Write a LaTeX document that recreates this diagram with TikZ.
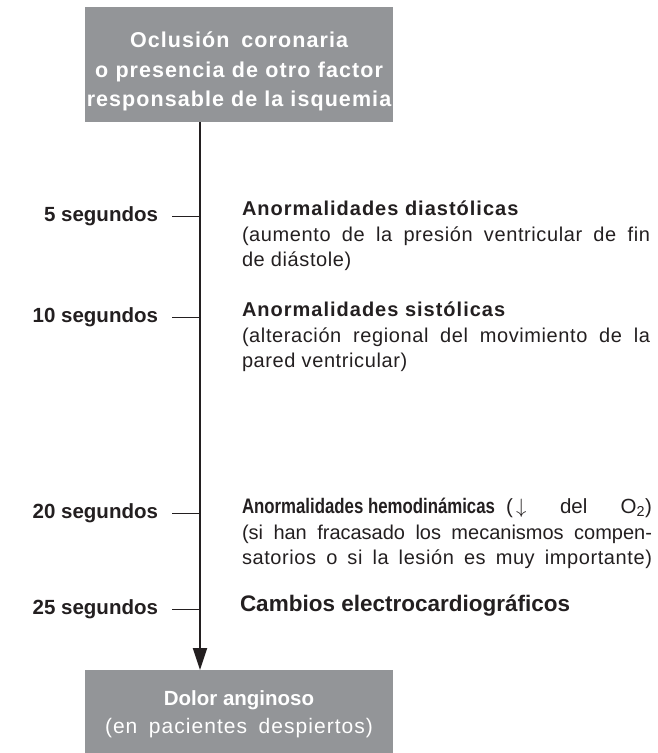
\documentclass[tikz,border=0pt]{standalone}
\usepackage{fontspec}
\setmainfont{Liberation Sans}
\newfontfamily\spacedfont[LetterSpace=5]{Liberation Sans}
\newfontfamily\lightspaced[LetterSpace=3]{Liberation Sans}
\usetikzlibrary{arrows.meta}
\definecolor{boxgray}{RGB}{147,149,152}
\definecolor{ink}{RGB}{35,31,32}
\tikzset{
  every node/.style={inner sep=0pt, outer sep=0pt, text=ink},
  graybox/.style={fill=boxgray, draw=none, anchor=north west},
  boxhead/.style={anchor=base, text=white, font=\spacedfont\bfseries\fontsize{21.5}{25}\selectfont},
  boxsub/.style={anchor=base, text=white, font=\spacedfont\fontsize{21}{25}\selectfont},
  timelabel/.style={anchor=base east, font=\bfseries\fontsize{20.5}{25}\selectfont},
  headline/.style={anchor=base west, font=\spacedfont\bfseries\fontsize{20}{25}\selectfont},
  subline/.style={anchor=base west, font=\lightspaced\fontsize{20}{25}\selectfont},
  plainline/.style={anchor=base west, font=\fontsize{20}{25}\selectfont},
  tickline/.style={draw=ink, line width=0.9pt},
  mainline/.style={draw=ink, line width=2pt, -{Triangle[length=22pt,width=14pt]}}
}
\begin{document}
\begin{tikzpicture}[x=1pt,y=-1pt]
\useasboundingbox (0,0) rectangle (657,753);
% boxes
\node[graybox, minimum width=308pt, minimum height=115pt] (top) at (85,7) {};
\node[graybox, minimum width=308pt, minimum height=83pt] (bot) at (85,670) {};
\node[boxhead] (top1) at (239,47) {\makebox[218pt][s]{Oclusión coronaria}};
\node[boxhead] (top2) at (239,77) {\makebox[288pt][s]{o presencia de otro factor}};
\node[boxhead] (top3) at (239,106) {responsable de la isquemia};
\node[boxhead, font=\bfseries\fontsize{20.5}{25}\selectfont] (bot1) at (239,705) {Dolor anginoso};
\node[boxsub] (bot2) at (239,733) {\makebox[268pt][s]{(en pacientes despiertos)}};
% main line
\coordinate (ltop) at (200,122);
\draw[mainline] (ltop) -- (ltop |- bot.north);
% time labels
\node[timelabel] (s5) at (158,221) {5 segundos};
\node[timelabel] (s10) at (158,322) {10 segundos};
\node[timelabel] (s20) at (158,518) {20 segundos};
\node[timelabel] (s25) at (158,614) {25 segundos};
\foreach \n/\y in {5/216,10/317,20/513,25/609}{
  \coordinate (ka\n) at (172,\y);
  \coordinate (kb\n) at (200,\y);
  \draw[tickline] (ka\n) -- (kb\n);
}
% events
\node[headline] (h5) at (242,215) {Anormalidades diastólicas};
\node[subline] (h5a) at (242,241) {\makebox[408pt][s]{(aumento de la presión ventricular de fin}};
\node[subline] (h5b) at (242,266) {de diástole)};
\node[headline] (h10) at (242,316) {Anormalidades sistólicas};
\node[subline] (h10a) at (242,342) {\makebox[408pt][s]{(alteración regional del movimiento de la}};
\node[subline] (h10b) at (242,367) {pared ventricular)};
\node[anchor=base west, font=\bfseries\fontsize{21}{25}\selectfont] (h20) at (242,513) {\scalebox{0.8}[1]{Anormalidades hemodinámicas}};
\node[anchor=base east, font=\fontsize{20.5}{25}\selectfont] (h20o) at (652,513) {\makebox[146pt][s]{(\,$\downarrow$ del O\textsubscript{2})}};
\node[plainline] (h20a) at (242,539) {\makebox[410pt][s]{(si han fracasado los mecanismos compen-}};
\node[subline] (h20b) at (242,564) {\makebox[410pt][s]{satorios o si la lesión es muy importante)}};
\node[anchor=base west, font=\bfseries\fontsize{22.5}{25}\selectfont] (h25) at (240,611) {Cambios electrocardiográficos};
\end{tikzpicture}
\end{document}
